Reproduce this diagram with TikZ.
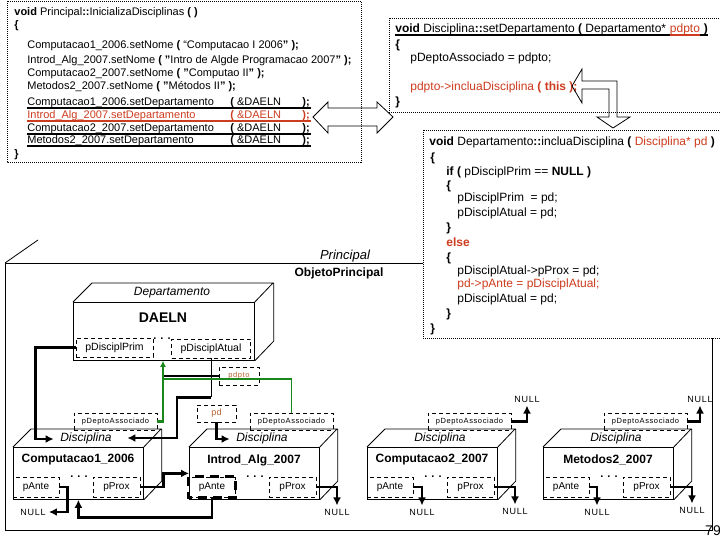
\documentclass[tikz,border=0pt]{standalone}
\usepackage{fontspec}
\setmainfont{Liberation Sans}
\newfontfamily\spacedfont[LetterSpace=8]{Liberation Sans}
\usetikzlibrary{positioning,calc,arrows.meta}

\definecolor{codered}{RGB}{205,60,30}
\definecolor{ptrbrown}{RGB}{185,95,45}
\definecolor{ptrgreen}{RGB}{25,135,25}

\tikzset{
	code/.style={anchor=base west,inner sep=0pt,font=\fontsize{11}{13}\selectfont},
	bigcode/.style={code,font=\fontsize{12}{14}\selectfont},
	codebox/.style={draw,dash pattern=on 1pt off 1pt,fill=white},
	field/.style={draw,dash pattern=on 4pt off 3pt,inner sep=0pt,font=\fontsize{10}{12}\selectfont},
	conn/.style={line width=2.5pt,-{Latex[length=8pt,width=8pt]}},
	uline/.style={line width=2pt},
	nulltxt/.style={inner sep=3pt,font=\spacedfont\fontsize{9}{10}\selectfont},
	ptr/.style={ptrgreen,line width=1.5pt},
}

\begin{document}
\begin{tikzpicture}[x=1pt,y=-1pt,line width=0.8pt]
		\useasboundingbox (0,0) rectangle (720,540);
		\clip (0,0) rectangle (720,540);
		\def\fw{130}
		\def\fh{52}
		\def\dz{18}

		%objeto principal
		\draw (5,263) rectangle (712,530);
		\draw (5,263) -- (38,240);
		\node[font=\itshape\fontsize{13}{15}\selectfont] (prlbl) at (345,256) {Principal};
		\node[font=\bfseries\fontsize{12}{14}\selectfont] (objprinc) at (339,273) {ObjetoPrincipal};

		%codigo: Principal::InicializaDisciplinas
		\draw[codebox] (7,1) rectangle (361,162);
		\node[code] (pr1) at (14,16) {\textbf{void} Principal\textbf{::}InicializaDisciplinas \textbf{( )}};
		\node[code] (pr2) at (14,29) {\textbf{\{}};
		\node[code] (pr3) at (27,49) {Computacao1\_2006.setNome \textbf{(} “Computacao I 2006\textbf{"} \textbf{);}};
		\node[code] (pr4) at (27,64) {Introd\_Alg\_2007.setNome \textbf{( "}Intro de Algde Programacao 2007\textbf{" );}};
		\node[code] (pr5) at (27,77) {Computacao2\_2007.setNome \textbf{( "}Computao II\textbf{" );}};
		\node[code] (pr6) at (27,90) {Metodos2\_2007.setNome \textbf{( "}Métodos II\textbf{" );}};
		\node[code] (sd1) at (27,106) {\makebox[203pt][l]{Computacao1\_2006.setDepartamento}\makebox[72pt][l]{\textbf{(} \&DAELN}\textbf{);}};
		\node[code,text=codered] (sd2) at (27,119) {\makebox[203pt][l]{Introd\_Alg\_2007.setDepartamento}\makebox[72pt][l]{\textbf{(} \&DAELN}\textbf{);}};
		\node[code] (sd3) at (27,132) {\makebox[203pt][l]{Computacao2\_2007.setDepartamento}\makebox[72pt][l]{\textbf{(} \&DAELN}\textbf{);}};
		\node[code] (sd4) at (27,144) {\makebox[203pt][l]{Metodos2\_2007.setDepartamento}\makebox[72pt][l]{\textbf{(} \&DAELN}\textbf{);}};
		\node[code] (pr7) at (14,158) {\textbf{\}}};
		\foreach \s in {1,3,4}
			\draw[uline] ($(sd\s.base west)+(0,2)$) -- ++(284,0);
		\draw[uline,codered] ($(sd2.base west)+(0,2)$) -- ++(284,0);

		%codigo: Disciplina::setDepartamento
		\draw[codebox] (389,18) rectangle (730,112);
		\node[bigcode] (ds1) at (395,33) {\textbf{void} Disciplina\textbf{::}setDepartamento \textbf{(} Departamento*};
		\node[bigcode,text=codered] (ds1b) at ([xshift=3pt]ds1.base east) {pdpto};
		\node[bigcode] (ds1c) at ([xshift=3pt]ds1b.base east) {\textbf{)}};
		\draw[line width=1.5pt] ($(ds1.base west)+(0,2)$) -- ($(ds1c.base east)+(0,2)$);
		\draw[line width=1.5pt,codered] ($(ds1b.base west)+(0,2)$) -- ($(ds1b.base east)+(0,2)$);
		\node[bigcode] (ds2) at (395,49) {\textbf{\{}};
		\node[bigcode] (ds3) at (410,62) {pDeptoAssociado = pdpto;};
		\node[bigcode,text=codered] (ds4) at (410,91) {pdpto->incluaDisciplina \textbf{( this );}};
		\node[bigcode] (ds5) at (395,106) {\textbf{\}}};

		%codigo: Departamento::incluaDisciplina
		\draw[codebox] (423,130) rectangle (730,338);
		\node[bigcode] (id1) at (429,146) {\textbf{void} Departamento\textbf{::}incluaDisciplina \textbf{(} {\color{codered}Disciplina* pd} \textbf{)}};
		\node[bigcode] (id2) at (430,162) {\textbf{\{}};
		\node[bigcode] (id3) at (446,176) {\textbf{if (} pDisciplPrim == \textbf{NULL )}};
		\node[bigcode] (id4) at (446,190) {\textbf{\{}};
		\node[bigcode] (id5) at (457,202) {pDisciplPrim\ \ = pd;};
		\node[bigcode] (id6) at (457,216) {pDisciplAtual = pd;};
		\node[bigcode] (id7) at (446,231) {\textbf{\}}};
		\node[bigcode,text=codered] (id8) at (446,246) {\textbf{else}};
		\node[bigcode] (id9) at (446,261) {\textbf{\{}};
		\node[bigcode] (id10) at (457,274) {pDisciplAtual->pProx = pd;};
		\node[bigcode,text=codered] (id11) at (457,287) {pd->pAnte = pDisciplAtual;};
		\node[bigcode] (id12) at (457,302) {pDisciplAtual = pd;};
		\node[bigcode] (id13) at (446,317) {\textbf{\}}};
		\node[bigcode] (id14) at (430,332) {\textbf{\}}};

		%setas de bloco
		\draw (313,117) -- (328,102) -- (328,108) -- (377,108) -- (377,102) -- (393,117)
			-- (377,133) -- (377,126) -- (328,126) -- (328,133) -- cycle;
		\draw (572,86) -- (582,69) -- (582,81) -- (617,81) -- (617,117) -- (630,117) -- (613,128)
			-- (597,117) -- (609,117) -- (609,89) -- (582,89) -- (582,103) -- cycle;

		%objeto Departamento
		\node[draw,anchor=north west,inner sep=0pt,minimum width=181pt,minimum height=58pt] (dep) at (73,302) {};
		\draw (dep.north west) -- ++(19,-19) -- ++(181,0) -- (dep.north east)
			++(19,-19) -- ++(0,58) -- (dep.south east);
		\node[font=\itshape\fontsize{12}{14}\selectfont] (deplbl) at (172,293) {Departamento};
		\node[font=\bfseries\fontsize{14}{16}\selectfont] (daeln) at (163,318) {DAELN};
		\node[field,minimum width=77pt,minimum height=19pt,font=\fontsize{10.5}{12}\selectfont] (pPrim) at (114.5,347.5) {pDisciplPrim};
		\node[field,minimum width=79pt,minimum height=19pt,font=\fontsize{10.5}{12}\selectfont] (pAtual) at (211,348.5) {pDisciplAtual};
		\node[font=\bfseries\fontsize{11}{13}\selectfont,anchor=base,inner sep=0pt] (depdots) at (162,339) {. . .};
		\coordinate (depin) at ($(dep.south west)+(90,0)$);

		%objetos Disciplina
		\foreach \x/\nm/\i in {13/Computacao1\_2006/1,189/Introd\_Alg\_2007/2,367/Computacao2\_2007/3,543/Metodos2\_2007/4}{
			\node[draw,anchor=north west,inner sep=0pt,minimum width=\fw pt,minimum height=\fh pt] (front\i) at (\x,447) {};
			\draw (front\i.north west) -- ++(\dz,-\dz) -- ++(\fw,0) -- (front\i.north east)
				++(\dz,-\dz) -- ++(0,\fh) -- (front\i.south east);
			\node[font=\itshape\fontsize{12}{14}\selectfont] (dl\i) at (\x+73,438) {Disciplina};
			\node[font=\bfseries\fontsize{12}{14}\selectfont] (dn\i) at (\x+65,460) {\nm};
			\node[font=\bfseries\fontsize{11}{13}\selectfont,anchor=base,inner sep=0pt] (dots\i) at (\x+66,477) {. . .};
			\node[field,minimum width=46pt,minimum height=20pt] (pA\i) at (\x+23,487) {pAnte};
			\node[field,minimum width=47pt,minimum height=20pt] (pP\i) at (\x+103.5,487) {pProx};
			\node[field,minimum width=83pt,minimum height=17pt,font=\spacedfont\fontsize{7.5}{9}\selectfont] (pDA\i) at (\x+102.5,421.5) {pDeptoAssociado};
		}
		\draw[line width=3pt,dash pattern=on 9pt off 6pt] (pA2.north west) rectangle (pA2.south east);

		%ponteiros pdpto e pd
		\node[field,minimum width=40pt,minimum height=18pt,font=\spacedfont\fontsize{7.5}{9}\selectfont,text=ptrbrown] (pdpto) at (239,376) {pdpto};
		\node[field,minimum width=39pt,minimum height=17pt,font=\fontsize{9}{10}\selectfont,text=ptrbrown] (pd) at (216.5,413.5) {pd};

		%NULL
		\node[nulltxt] (null1) at (33,512) {NULL};
		\node[nulltxt] (null2) at (337,512) {NULL};
		\node[nulltxt] (null3) at (422,512) {NULL};
		\node[nulltxt] (null4) at (515,511) {NULL};
		\node[nulltxt] (null5) at (527,399) {NULL};
		\node[nulltxt] (null6) at (597,512) {NULL};
		\node[nulltxt] (null7) at (692,510) {NULL};
		\node[nulltxt] (null8) at (700,399) {NULL};

		%ligacoes
		\draw[conn] (pPrim.west) -- ++(-40,0) |- ($(dl1.west)+(-3,1)$);
		\draw (pAtual.south) -- ++(0,39) coordinate (atl);
		\draw[conn] (atl) -- ++(-34,0) |- ($(dl1.east)+(12,0)$);
		\draw[conn] (pd.south) |- ($(dl2.west)+(-3,1)$);
		\draw[conn] (pA1.east) -- ++(8,0) |- (null1.east);
		\draw[conn] (pA2.south) -- ++(0,20) -| (front1.south);
		\draw[conn] (pP1.east) -- ++(23,0) |- (front2.west);
		\draw[conn] (pP2.east) -| (null2.north);
		\draw[conn] (pA3.east) -| (null3.north);
		\draw[conn] (pP3.east) -| (null4.north);
		\draw[conn] (pDA3.east) -| (null5.south);
		\draw[conn] (pA4.east) -| (null6.north);
		\draw[conn] (pP4.east) -| (null7.north);
		\draw[conn] (pDA4.east) -| (null8.south);
		\draw[line width=2.5pt] (pdpto.west) -- (pdpto.west -| depin);
		\draw[ptr,line width=2.2pt,-{Latex[length=6pt,width=6pt]}] (pDA1.east) -| (depin);
		\draw[ptr] (pDA2.north) |- ($(depin)+(0,18)$);

		\node[font=\fontsize{14}{16}\selectfont,inner sep=0pt] (pgno) at (713,531) {79};
	\end{tikzpicture}
\end{document}
